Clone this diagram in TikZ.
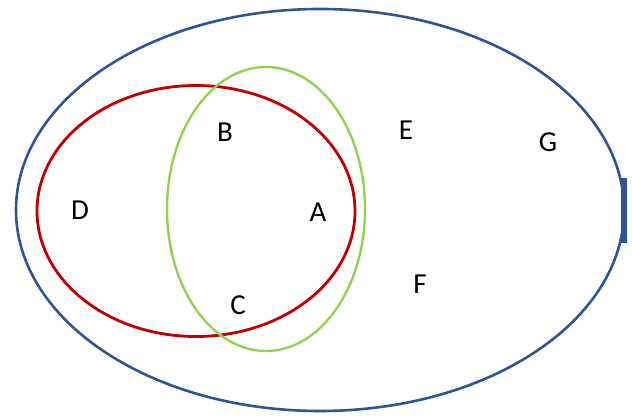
\documentclass[tikz,border=0pt]{standalone}
\usepackage{fontspec}
\setmainfont{Carlito}
\usetikzlibrary{shapes.geometric}
\definecolor{setblue}{HTML}{2E5496}
\definecolor{setred}{HTML}{C00000}
\definecolor{setgreen}{HTML}{92D050}
\begin{document}
\begin{tikzpicture}[x=1pt,y=-1pt,every node/.style={font=\fontsize{29}{34}\selectfont},s/.style={draw,ellipse,inner sep=0pt}]
\useasboundingbox (0,0) rectangle (632,419);
\node[s,setblue,line width=2.6pt,minimum width=608pt,minimum height=402pt] (U) at (320,210) {};
\node[s,setred,line width=2.8pt,minimum width=318pt,minimum height=251pt] (red) at (196,211) {};
\node[s,setgreen,line width=2.3pt,minimum width=198pt,minimum height=284pt] (green) at (266,209) {};
\fill[setblue] (621,178) rectangle (627,243);
\node (A) at (318,212) {A};
\node (B) at (225,132) {B};
\node (C) at (238,305) {C};
\node (D) at (80,210) {D};
\node (E) at (406,130) {E};
\node (F) at (420,284) {F};
\node (G) at (548,142) {G};
\end{tikzpicture}
\end{document}
